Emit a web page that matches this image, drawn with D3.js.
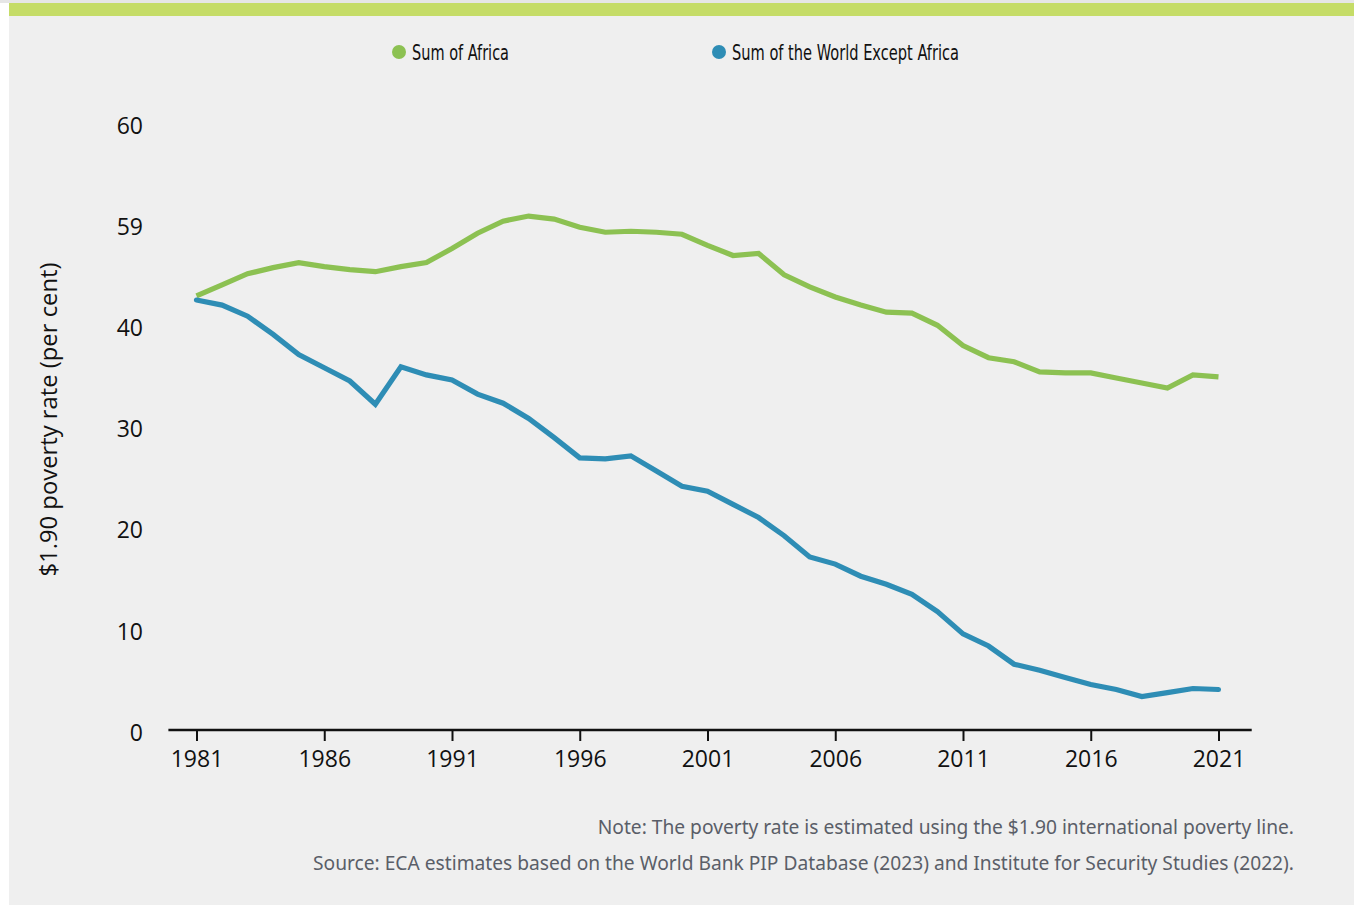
<!DOCTYPE html>
<html>
<head>
<meta charset="utf-8">
<script src="https://cdn.jsdelivr.net/npm/d3@7"></script>
<style>
  html, body { margin: 0; padding: 0; background: #ffffff; }
  svg { display: block; }
</style>
</head>
<body>
<svg id="chart"></svg>
<script>
// values
var years = d3.range(1981, 2022);
var africa = [43.0, 44.1, 45.2, 45.8, 46.3, 45.9, 45.6, 45.4, 45.9, 46.3,
              47.7, 49.2, 50.4, 50.9, 50.6, 49.8, 49.3, 49.4, 49.3, 49.1,
              48.0, 47.0, 47.2, 45.1, 43.9, 42.9, 42.1, 41.4, 41.3, 40.1,
              38.1, 36.9, 36.5, 35.5, 35.4, 35.4, 34.9, 34.4, 33.9, 35.2, 35.0];
var worldExAfrica = [42.6, 42.1, 41.0, 39.2, 37.2, 35.9, 34.6, 32.3, 36.0, 35.2,
                     34.7, 33.3, 32.4, 30.9, 29.0, 27.0, 26.9, 27.2, 25.7, 24.2,
                     23.7, 22.4, 21.1, 19.3, 17.2, 16.5, 15.3, 14.5, 13.5, 11.8,
                     9.6, 8.4, 6.6, 6.0, 5.3, 4.6, 4.1, 3.4, 3.8, 4.2, 4.1];
var xTicks = [1981, 1986, 1991, 1996, 2001, 2006, 2011, 2016, 2021];
var yTicks = [0, 10, 20, 30, 40, 50, 60];
var yTickLabels = ["0", "10", "20", "30", "40", "59", "60"];
var seriesNames = ["Sum of Africa", "Sum of the World Except Africa"];
var seriesColors = ["#8cc152", "#2e8db5"];
var yTitle = "$1.90 poverty rate (per cent)";
var notes = [
    "Note: The poverty rate is estimated using the $1.90 international poverty line.",
    "Source: ECA estimates based on the World Bank PIP Database (2023) and Institute for Security Studies (2022)."
];

var width = 1354, height = 907;
var svg = d3.select("#chart").attr("width", width).attr("height", height);

// panel + top band
svg.append("rect").attr("x", 0).attr("y", 0).attr("width", width).attr("height", 3).style("fill", "#e6e6e6");
svg.append("rect").attr("x", 9).attr("y", 3).attr("width", width - 9).attr("height", 902).style("fill", "#efefef");
svg.append("rect").attr("x", 9).attr("y", 3).attr("width", width - 9).attr("height", 13).style("fill", "#c5dc67");

var x = d3.scaleLinear().domain([1981, 2021]).range([196.5, 1218.5]);
var y = d3.scaleLinear().domain([0, 60]).range([731, 124]);

var font = "'Open Sans', 'Noto Sans', sans-serif";

// x axis
var xAxis = svg.append("g")
    .attr("transform", "translate(0," + y(0) + ")")
    .call(d3.axisBottom(x).tickValues(xTicks).tickFormat(d3.format("d")).tickSize(10).tickSizeOuter(0).tickPadding(10));
xAxis.select(".domain").remove();
xAxis.append("line")
    .attr("x1", x(1979.9)).attr("x2", x(2022.3))
    .attr("y1", -1).attr("y2", -1)
    .style("stroke", "#111").style("stroke-width", 2.5);
xAxis.selectAll(".tick line").style("stroke", "#111").style("stroke-width", 2);
xAxis.selectAll(".tick text")
    .style("font-family", font).style("font-size", "23px").style("fill", "#111");

// y axis (labels only)
var yAxis = svg.append("g")
    .attr("transform", "translate(150,0)")
    .call(d3.axisLeft(y).tickValues(yTicks).tickFormat(function (d, i) { return yTickLabels[i]; }).tickSize(0).tickPadding(7));
yAxis.select(".domain").remove();
yAxis.selectAll(".tick text")
    .attr("dy", "0.4em")
    .style("font-family", font).style("font-size", "23px").style("fill", "#111");

svg.append("text")
    .attr("transform", "translate(57," + ((262 + 577) / 2) + ") rotate(-90)")
    .style("text-anchor", "middle")
    .style("font-family", font).style("font-size", "23.8px").style("fill", "#111")
    .text(yTitle);

// lines
var line = d3.line()
    .x(function (d) { return x(d[0]); })
    .y(function (d) { return y(d[1]); });

[africa, worldExAfrica].forEach(function (vals, i) {
    svg.append("path")
        .datum(years.map(function (yr, j) { return [yr, vals[j]]; }))
        .attr("d", line)
        .style("fill", "none")
        .style("stroke", seriesColors[i])
        .style("stroke-width", 5.2)
        .style("stroke-linejoin", "miter")
        .style("stroke-linecap", i === 1 ? "round" : "butt");
});

// legend
var legendX = [399, 719];
var legendWidths = [97, 227];
seriesNames.forEach(function (name, i) {
    var g = svg.append("g").attr("transform", "translate(" + legendX[i] + ",52)");
    g.append("circle").attr("r", 7).style("fill", seriesColors[i]);
    g.append("text")
        .attr("x", 13).attr("dy", "0.36em")
        .attr("textLength", legendWidths[i])
        .attr("lengthAdjust", "spacingAndGlyphs")
        .style("font-family", "'Liberation Sans Narrow', 'DejaVu Sans Condensed', 'Open Sans', sans-serif")
        .style("font-size", "21px").style("fill", "#111")
        .text(name);
});

// notes
svg.selectAll(".note")
    .data(notes)
    .enter().append("text")
    .attr("class", "note")
    .attr("x", 1294)
    .attr("y", function (d, i) { return 834 + i * 36; })
    .style("text-anchor", "end")
    .style("font-family", "'Noto Sans', 'Open Sans', sans-serif")
    .style("font-size", "19.2px")
    .style("fill", "#5a5e68")
    .text(function (d) { return d; });
</script>
</body>
</html>
